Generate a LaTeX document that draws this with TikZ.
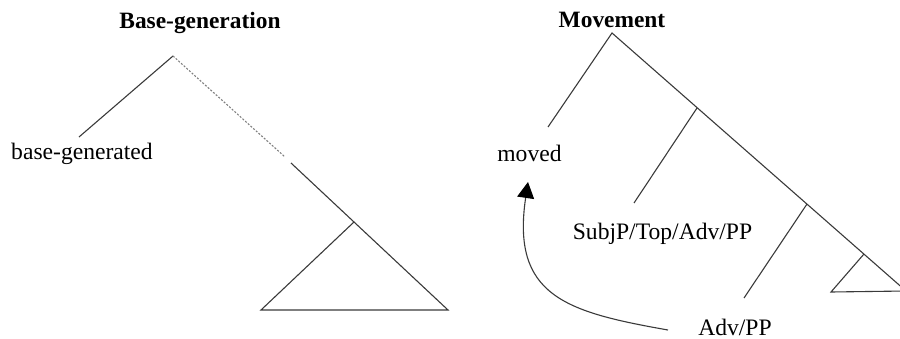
\documentclass[tikz,border=0pt]{standalone}
\usepackage{fontspec}
\setmainfont{Liberation Serif}
\usepackage{tikz}
\usetikzlibrary{arrows.meta,positioning}
\definecolor{branchgray}{HTML}{3A3A3A}

\begin{document}
\begin{tikzpicture}[x=0.5pt,y=-0.5pt,
    branch/.style={draw=branchgray,line width=0.55pt},
    lbl/.style={anchor=base,inner sep=0pt,font=\fontsize{11.8}{14}\selectfont},
    ttl/.style={anchor=base,inner sep=0pt,font=\fontsize{11.7}{14}\selectfont\bfseries}]
    \useasboundingbox (0,0) rectangle (900,338);
    \clip (0,0) rectangle (900,338);
    % base-generation tree
    \node[ttl] (basetitle) at (200,28) {Base-generation};
    \node[lbl] (basegen) at (82,159) {base-generated};
    \coordinate (b0) at (173,56);
    \coordinate (bleft) at (79,137);
    \coordinate (bgapa) at (285,157);
    \coordinate (bgapb) at (291,163);
    \coordinate (b1) at (354,222);
    \coordinate (btl) at (261,310);
    \coordinate (btr) at (448,310);
    \draw[branch] (bleft)--(b0);
    \draw[branch,draw=gray,dash pattern=on 1pt off 0.8pt] (b0)--(bgapa);
    \draw[branch] (bgapb)--(b1)--(btr)--(btl)--(b1);
    % movement tree
    \node[ttl] (movetitle) at (612,27) {Movement};
    \node[lbl] (moved) at (529.5,161) {moved};
    \node[lbl] (subjp) at (662.5,239) {SubjP/Top/Adv/PP};
    \node[lbl] (advpp) at (735,335) {Adv/PP};
    \coordinate (m0) at (612,33);
    \coordinate (mleft) at (548,127);
    \coordinate (m1) at (697,108);
    \coordinate (m1leaf) at (634,203);
    \coordinate (m2) at (807,204);
    \coordinate (m2leaf) at (744,298);
    \coordinate (m3) at (864,254);
    \coordinate (mtl) at (831,292);
    \coordinate (mtr) at (906,291);
    \draw[branch] (mleft)--(m0)--(mtr)--(mtl)--(m3);
    \draw[branch] (m1)--(m1leaf);
    \draw[branch] (m2)--(m2leaf);
    % movement arrow
    \coordinate (arrtail) at (668,330);
    \coordinate (arrhead) at (528,182);
    \draw[branch,-{Triangle[length=8pt,width=8.5pt,color=black]}] (arrtail) .. controls (566,312) and (511,296) .. (arrhead);
\end{tikzpicture}
\end{document}
